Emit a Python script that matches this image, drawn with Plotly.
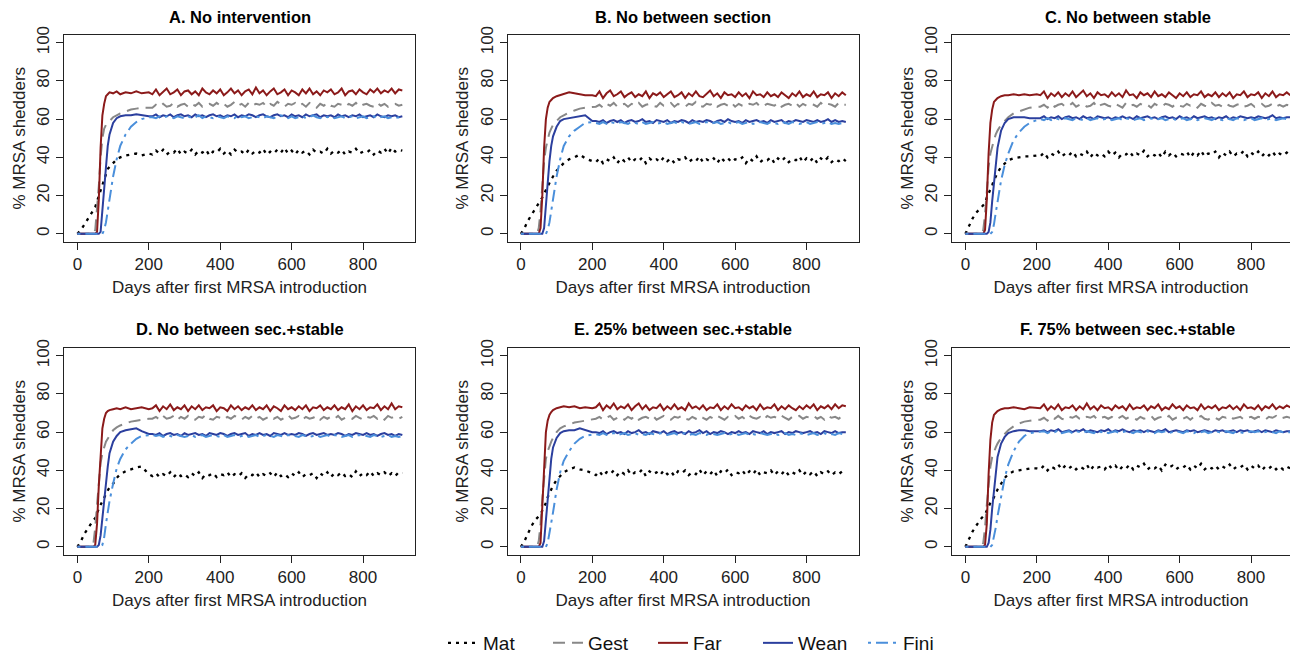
import plotly.graph_objects as go

W, H = 1290, 662

DAYS = [0, 10, 20, 30, 40, 45, 50, 55, 60, 65, 70, 75, 80, 85, 90, 100, 110, 120, 135, 150, 165, 180, 200,
        210, 220, 230, 240, 250, 260, 270, 280, 290, 300,
        310, 320, 330, 340, 350, 360, 370, 380, 390, 400,
        410, 420, 430, 440, 450, 460, 470, 480, 490, 500,
        510, 520, 530, 540, 550, 560, 570, 580, 590, 600,
        610, 620, 630, 640, 650, 660, 670, 680, 690, 700,
        710, 720, 730, 740, 750, 760, 770, 780, 790, 800,
        810, 820, 830, 840, 850, 860, 870, 880, 890, 900,
        910]

SERIES_NAMES = ["Mat", "Gest", "Far", "Wean", "Fini"]
PANEL_TITLES = ["A. No intervention", "B. No between section", "C. No between stable",
                "D. No between sec.+stable", "E. 25% between sec.+stable", "F. 75% between sec.+stable"]
X_TICKS = [0, 200, 400, 600, 800]
Y_TICKS = [0, 20, 40, 60, 80, 100]

# ---------------- Panel A ----------------
A_MAT = [0, 2, 5, 8, 11, 12.5, 14, 17, 20, 23, 26, 29, 32, 34, 35, 37, 39, 40, 41, 41.5, 42, 41, 42,
         41.5, 43.5, 42, 44, 41.5, 43, 42.5, 44.5, 41.5, 43,
         42, 44, 41.5, 43.5, 42.5, 44, 41, 43, 42.5, 44.5,
         42, 43.5, 41.5, 44, 42.5, 43, 41.5, 44, 42, 43.5,
         42.5, 44.5, 41.5, 43, 42, 44, 42.5, 45, 42, 43.5,
         41.5, 44, 42.5, 43.5, 41.5, 44, 42.5, 43, 42, 44.5,
         42, 43.5, 42.5, 44, 41.5, 43, 42.5, 44.5, 42, 43,
         42.5, 44, 41.5, 43.5, 42.5, 44.5, 42, 45, 43, 44,
         43.5]
A_GEST = [0, 0, 0, 0, 0, 0, 2, 12, 25, 40, 50, 55, 57, 58, 59, 61, 62, 63, 64, 65, 65.5, 66, 66,
          66, 67.5, 66.5, 68, 66.5, 67, 68.5, 66.5, 67.5, 68,
          66.5, 68, 67, 68.5, 66.5, 67.5, 68, 67, 68.5, 67,
          68, 66.5, 67.5, 69, 67, 68, 66.5, 68.5, 67, 68,
          67.5, 68.5, 66.5, 68, 67, 69, 67.5, 66.5, 68, 67.5,
          68.5, 67, 68, 66.5, 68.5, 67.5, 66, 68, 67, 68.5,
          67, 66.5, 68, 67.5, 66.5, 68, 67, 68.5, 66.5, 67.5,
          68, 67, 66.5, 68.5, 67, 68, 66.5, 67.5, 68, 67,
          67.5]
A_FAR = [0, 0, 0, 0, 0, 0, 0, 1, 18, 45, 62, 68, 72, 73, 74, 73.5, 74.5, 73, 74, 73.5, 74.5, 73.5, 74,
         73, 75.5, 72.5, 74.5, 76, 73, 74, 75.5, 72.5, 74.5,
         75, 73, 74.5, 72.5, 76, 74, 73, 75, 73.5, 75.5,
         72.5, 74, 76, 73.5, 75, 72.5, 74.5, 75.5, 73, 76.5,
         73.5, 75, 72.5, 74.5, 76, 73, 74, 75.5, 72.5, 75,
         74, 72.5, 75.5, 73.5, 76, 73, 74.5, 72.5, 75, 74,
         75.5, 73, 74, 76, 72.5, 74.5, 75, 73, 75.5, 74,
         73, 75.5, 74, 76, 73.5, 75, 74, 76, 73.5, 75.5,
         75]
A_WEAN = [0, 0, 0, 0, 0, 0, 0, 0, 0, 1, 12, 27, 38, 46, 52, 58, 60.5, 61.5, 62, 62, 62.5, 62, 61.5,
          61.5, 62.5, 61, 62, 61.5, 62.5, 61, 62, 62.5, 61.5,
          62, 61, 62.5, 61.5, 62, 61, 62, 62.5, 61.5, 62,
          61, 62, 61.5, 62.5, 61, 62, 61.5, 62.5, 62, 61,
          62, 62.5, 61.5, 61, 62, 62.5, 61.5, 62, 61, 62.5,
          61.5, 62, 61, 62.5, 61.5, 62, 62.5, 61, 62, 61.5,
          62, 61, 62.5, 61.5, 62, 61, 62, 61.5, 62.5, 61,
          61.5, 62, 61, 62.5, 61.5, 61, 62, 61.5, 62, 61,
          61.5]
A_FINI = [0, 0, 0, 0, 0, 0, 0, 0, 0, 0, 0, 2, 6, 12, 18, 30, 39, 46, 52, 56, 58.5, 60, 61,
          61, 60.5, 61.5, 60.5, 61.5, 61, 60.5, 61.5, 61, 60.5,
          61.5, 60.5, 61, 62, 60.5, 61.5, 61, 60.5, 61.5, 61,
          60.5, 61.5, 61, 60.5, 62, 61, 61.5, 60.5, 61, 61.5,
          61, 60.5, 61.5, 61, 60.5, 61.5, 62, 61, 60.5, 61.5,
          60.5, 61, 61.5, 60.5, 61, 62, 61, 60.5, 61.5, 61,
          61.5, 60.5, 61, 61.5, 60.5, 61, 61.5, 60.5, 61, 61.5,
          60.5, 61, 61.5, 60.5, 61, 61.5, 60.5, 61, 60.5, 61,
          61]

# ---------------- Panel B ----------------
B_MAT = [0, 3, 7, 10, 13, 14.5, 16, 17, 19, 21, 23, 25, 27, 28.5, 30, 33, 35, 37, 39, 40, 41.5, 39.5, 38,
         37.5, 39.5, 37, 39, 38, 40, 37, 39.5, 38, 40,
         37.5, 39, 38, 40, 37, 39.5, 38, 39, 37.5, 40,
         38, 39.5, 37, 39, 38.5, 40, 37.5, 39, 38, 40.5,
         37.5, 39, 38, 39.5, 37, 40, 38, 39.5, 37.5, 39,
         38.5, 40, 37, 39.5, 38, 40.5, 37.5, 39, 38.5, 40,
         37, 39.5, 38, 40, 37.5, 39, 38.5, 40.5, 37.5, 39.5,
         38, 40, 37, 39.5, 38, 40, 37.5, 39, 38, 39.5,
         38]
B_GEST = [0, 0, 0, 0, 0, 0, 3, 12, 25, 38, 45, 50, 53, 55, 57, 59, 61, 62, 63.5, 64.5, 65.5, 66, 66.5,
          66.5, 67.5, 66, 68, 67, 68.5, 66.5, 67.5, 68, 66.5,
          68, 67, 68.5, 66.5, 67.5, 68, 67, 66.5, 68.5, 67,
          67.5, 68.5, 66.5, 68, 67, 66.5, 68, 67.5, 69, 67,
          66.5, 68, 67.5, 68.5, 66.5, 67.5, 68, 67, 68.5, 66.5,
          68, 67, 66.5, 68, 67.5, 68.5, 66.5, 67, 68, 67.5,
          67, 68.5, 66.5, 67.5, 68, 67, 68.5, 66.5, 68, 67,
          68, 67.5, 66.5, 68.5, 67, 68, 67.5, 66.5, 68.5, 67.5,
          67.5]
B_FAR = [0, 0, 0, 0, 0, 0, 0, 3, 20, 45, 60, 66, 69, 70, 71, 72, 72.5, 73, 74, 73.5, 73, 72.5, 72.5,
         72, 74.5, 71, 73.5, 75, 72, 73, 74.5, 71.5, 73,
         74, 71.5, 73, 72, 74.5, 71, 73.5, 72.5, 74, 71.5,
         73, 74.5, 71.5, 72.5, 74, 71, 73.5, 72, 74.5, 72,
         71.5, 73, 75, 72, 73.5, 71, 74, 72.5, 73, 71.5,
         74, 72, 73.5, 71, 74.5, 72.5, 73, 71.5, 74, 72,
         73, 71.5, 74, 72.5, 71, 73.5, 72, 74.5, 71.5, 73,
         72, 74.5, 71.5, 73, 72.5, 74, 71, 73.5, 72, 74,
         72.5]
B_WEAN = [0, 0, 0, 0, 0, 0, 0, 0, 0, 3, 15, 28, 38, 46, 51, 56, 59, 60, 60.5, 61, 61.5, 62, 59,
          59, 58.5, 59.5, 58, 59, 59.5, 58.5, 59.5, 58, 59,
          59.5, 58.5, 59, 60, 58.5, 59, 58, 59.5, 59, 58.5,
          59.5, 58, 59, 58.5, 59.5, 59, 58, 59.5, 58.5, 59,
          58.5, 59.5, 59, 58, 59, 59.5, 58.5, 60, 59, 58.5,
          59, 58, 59.5, 58.5, 59, 59.5, 58.5, 59, 58, 59.5,
          58.5, 59, 59.5, 58, 59, 58.5, 59.5, 59, 58.5, 59.5,
          59, 58.5, 59.5, 58.5, 59, 60, 58.5, 59.5, 58.5, 59,
          58.5]
B_FINI = [0, 0, 0, 0, 0, 0, 0, 0, 0, 0, 0, 2, 6, 12, 18, 30, 39, 46, 51, 54, 56, 58, 58.5,
          58, 57.5, 58.5, 57.5, 58.5, 58, 57.5, 58.5, 58, 57.5,
          58.5, 58, 57.5, 58.5, 57.5, 58, 58.5, 57.5, 58, 58.5,
          57.5, 58, 58.5, 57.5, 58.5, 58, 57.5, 58, 58.5, 57.5,
          58, 58.5, 57.5, 58, 58.5, 57.5, 58, 58.5, 57.5, 58,
          58.5, 57.5, 58, 58.5, 57.5, 58, 58.5, 58, 57.5, 58.5,
          58, 57.5, 58.5, 58, 57.5, 58.5, 58, 57.5, 58, 58.5,
          57.5, 58, 58.5, 57.5, 58, 58.5, 57.5, 58, 57.5, 58,
          57.5]

# ---------------- Panel C ----------------
C_MAT = [0, 4, 8, 11, 13, 14, 15, 16, 19, 21, 23, 25.5, 28, 30, 32, 35, 37, 38.5, 39.5, 40, 40.5, 40.5, 41,
         40.5, 42.5, 40, 42, 41, 43, 40.5, 42, 41, 43,
         40.5, 42, 41, 43, 40, 42.5, 41, 42, 40.5, 43,
         41, 42.5, 40, 42, 41.5, 43, 40.5, 42, 41, 43.5,
         40.5, 42, 41, 42.5, 40, 43, 41, 42.5, 40.5, 42,
         41.5, 43, 40, 42.5, 41, 43.5, 40.5, 42, 41.5, 43,
         40, 42.5, 41, 43, 40.5, 42, 41.5, 43.5, 40.5, 42.5,
         41, 43, 40.5, 42.5, 41, 43, 40.5, 42, 41, 42.5,
         41]
C_GEST = [0, 0, 0, 0, 0, 0, 2, 10, 22, 35, 42, 46, 49, 52, 54, 57, 59, 61, 63, 64, 65, 66, 66.5,
          66.5, 67.5, 66, 68, 66.5, 67.5, 68, 66.5, 67, 68.5,
          66.5, 67.5, 68, 66.5, 67, 68.5, 66, 67.5, 68, 67,
          66.5, 68, 67, 66, 68.5, 67, 67.5, 66.5, 68, 67,
          67.5, 66, 68, 67, 66.5, 68, 67.5, 66.5, 68, 67,
          66.5, 68, 67, 67.5, 66, 68, 67, 66.5, 68.5, 67,
          67.5, 66.5, 68, 67, 66.5, 67.5, 68, 66.5, 67, 68,
          66.5, 67.5, 68, 66.5, 67, 68, 66.5, 67.5, 66.5, 67.5,
          67]
C_FAR = [0, 0, 0, 0, 0, 0, 0, 2, 18, 42, 58, 65, 69, 70, 71, 72, 72.5, 72.5, 73, 72.5, 73, 72.5, 73,
         72.5, 74.5, 71, 73.5, 72, 74, 71.5, 73.5, 72, 74.5,
         71.5, 73, 75, 72, 73.5, 71, 74, 72.5, 73, 71.5,
         74, 72, 73.5, 71.5, 75, 72.5, 73, 71, 74, 72.5,
         73.5, 71.5, 74.5, 72, 73, 71.5, 74, 72.5, 71, 73.5,
         72, 74, 71.5, 73, 72.5, 74.5, 71.5, 73, 72, 74,
         71.5, 73.5, 72, 74, 71, 73, 72.5, 74.5, 71.5, 73,
         72.5, 74, 71, 73.5, 72, 74.5, 71.5, 73, 72.5, 74,
         72.5]
C_WEAN = [0, 0, 0, 0, 0, 0, 0, 0, 0, 1, 6, 17, 27, 37, 45, 54, 58, 60, 61, 61, 61, 60.5, 60.5,
          60.5, 61.5, 60, 61, 60.5, 61.5, 60, 61, 61.5, 60.5,
          61, 60, 61.5, 60.5, 61, 60, 61.5, 61, 60.5, 61,
          60, 61, 60.5, 61.5, 60.5, 61, 60, 61.5, 60.5, 61,
          61.5, 60.5, 61, 60, 61, 61.5, 60.5, 61, 60, 61.5,
          60.5, 61, 60, 61.5, 60.5, 61, 61.5, 60.5, 61, 60,
          61, 60.5, 61.5, 60, 61, 60.5, 61.5, 61, 60.5, 61,
          60.5, 61.5, 61, 60.5, 61, 62, 60.5, 61, 60.5, 61,
          61]
C_FINI = [0, 0, 0, 0, 0, 0, 0, 0, 0, 0, 0, 1, 5, 11, 17, 28, 36, 42, 49, 53, 56, 58, 59.5,
          60, 59.5, 60.5, 59.5, 60.5, 60, 59.5, 60.5, 60, 59.5,
          60.5, 60, 59.5, 60.5, 59.5, 60, 60.5, 59.5, 60, 60.5,
          59.5, 60, 60.5, 59.5, 60.5, 60, 59.5, 60, 60.5, 59.5,
          60, 60.5, 59.5, 60, 60.5, 59.5, 60, 60.5, 59.5, 60,
          60.5, 59.5, 60, 60.5, 59.5, 60, 60.5, 60, 59.5, 60.5,
          60, 59.5, 60.5, 60, 59.5, 60.5, 60, 59.5, 60, 60.5,
          59.5, 60, 60.5, 59.5, 60, 60.5, 59.5, 60, 60.5, 60,
          60]

# ---------------- Panel D ----------------
D_MAT = [0, 3, 7, 10, 13, 14, 15, 18, 20, 22, 24, 26, 28, 29.5, 31, 33, 36, 38, 39.5, 40.5, 41.5, 42, 38,
         37, 38.5, 36.5, 38, 37, 39, 36.5, 38.5, 37, 38,
         36.5, 38.5, 37, 39, 36, 38, 37.5, 38.5, 36.5, 38,
         37.5, 39, 36.5, 38, 37, 38.5, 36, 38, 37.5, 39,
         36.5, 38, 37, 38.5, 36.5, 39, 37, 38, 36.5, 38.5,
         37, 39, 36.5, 38, 37.5, 38.5, 36, 38.5, 37, 39,
         36.5, 38.5, 37.5, 39, 37, 38, 36.5, 39.5, 37, 38.5,
         37.5, 39.5, 37, 38.5, 37.5, 39, 37, 38.5, 37, 39,
         38.5]
D_GEST = [0, 0, 0, 0, 0, 2, 10, 22, 35, 44, 49, 52, 55, 56.5, 58, 61, 62.5, 63.5, 64.5, 65.5, 66, 66.5, 67,
          67, 68, 66.5, 68.5, 67, 67.5, 68.5, 66.5, 68, 67,
          68.5, 67, 66.5, 68, 67.5, 69, 67, 66.5, 68, 67.5,
          66.5, 68, 67, 68.5, 67.5, 66.5, 68, 67, 68.5, 67,
          68, 66.5, 67.5, 68.5, 67, 68, 66.5, 67.5, 69, 67,
          67.5, 68.5, 66.5, 68, 67, 67.5, 68.5, 66.5, 68, 67,
          68, 67, 68.5, 66.5, 67.5, 68, 67, 68.5, 67.5, 66.5,
          68, 67.5, 68.5, 67, 68, 66.5, 68.5, 67.5, 68, 67,
          68]
D_FAR = [0, 0, 0, 0, 0, 0, 1, 12, 32, 50, 62, 67, 70, 71, 71.5, 72, 72.5, 72, 73, 72, 72.5, 73, 72,
         72.5, 74, 71, 73.5, 72, 74.5, 71.5, 73, 72, 74,
         71, 73.5, 72, 74, 71.5, 73, 72.5, 74, 71, 73,
         72.5, 71, 74, 72, 73.5, 71.5, 73, 72, 74, 71.5,
         73, 72, 74, 71, 73.5, 72.5, 71, 74, 72, 73,
         71.5, 73.5, 72, 74, 71, 73, 72.5, 74, 71.5, 73,
         72, 74, 71.5, 73, 72, 74.5, 71, 73.5, 72, 74,
         71.5, 73, 72.5, 74.5, 71.5, 73.5, 72, 75, 72, 73.5,
         73]
D_WEAN = [0, 0, 0, 0, 0, 0, 0, 0, 1, 6, 15, 25, 34, 42, 49, 55, 58, 60, 61, 61.5, 62, 60.5, 59,
          59, 58.5, 59.5, 58, 59, 59.5, 58.5, 59, 58, 59.5,
          58.5, 59, 59.5, 58.5, 59, 58, 59.5, 59, 58.5, 59.5,
          59, 58, 59, 59.5, 58.5, 59, 59.5, 58, 59, 58.5,
          59.5, 58.5, 59, 58, 59.5, 59, 58.5, 59.5, 58.5, 59,
          58.5, 59.5, 59, 58, 59, 59.5, 58.5, 59, 59.5, 58.5,
          59, 58.5, 59.5, 59, 58, 59, 58.5, 59.5, 59, 58.5,
          59.5, 58.5, 59, 58, 59, 59.5, 58.5, 59, 58, 59,
          58.5]
D_FINI = [0, 0, 0, 0, 0, 0, 0, 0, 0, 0, 1, 5, 12, 18, 24, 33, 41, 46, 51, 54, 56.5, 58, 58.5,
          58.5, 58, 58.5, 57.5, 58.5, 58, 57.5, 58.5, 58, 57.5,
          58, 58.5, 57.5, 58, 58.5, 57.5, 58, 58.5, 58, 57.5,
          58.5, 57.5, 58, 58.5, 57.5, 58, 58.5, 57.5, 58, 58.5,
          57.5, 58, 58.5, 58, 57.5, 58.5, 58, 57.5, 58.5, 58,
          58, 57.5, 58.5, 58, 57.5, 58, 58.5, 57.5, 58, 58.5,
          57.5, 58.5, 58, 57.5, 58, 58.5, 57.5, 58, 58.5, 58,
          58, 57.5, 58.5, 58, 57.5, 58, 58.5, 57.5, 58, 57.5,
          58]

# ---------------- Panel E ----------------
E_MAT = [0, 3, 7, 11, 14, 15, 16, 17, 19, 21, 23, 26, 28, 30, 32, 35, 37, 39, 40.5, 41.5, 40.5, 40, 38.5,
         37.5, 39.5, 37, 39, 38, 40, 37.5, 39.5, 38, 40,
         37.5, 39, 38.5, 40.5, 37, 39.5, 38, 39, 37.5, 40,
         38, 39.5, 37, 39.5, 38.5, 40, 37.5, 39, 38, 40.5,
         37.5, 39.5, 38, 40, 37, 39.5, 38.5, 40.5, 37.5, 39,
         38.5, 40, 37.5, 39.5, 38, 40.5, 37.5, 39, 38.5, 40,
         37.5, 39.5, 38, 40, 37.5, 39, 38, 40, 37.5, 39.5,
         38, 39.5, 37, 39, 38, 39.5, 37.5, 39, 38, 39.5,
         39]
E_GEST = [0, 0, 0, 0, 0, 0, 3, 12, 25, 38, 46, 50, 53, 55, 57, 60, 62, 63, 64, 65, 65.5, 66, 66.5,
          67, 68, 66.5, 67.5, 68.5, 66.5, 67.5, 68, 66.5, 68,
          67, 68.5, 66.5, 67.5, 68, 67, 68.5, 66.5, 67.5, 68.5,
          67, 66.5, 68, 67.5, 68.5, 67, 66.5, 68, 67, 68.5,
          67.5, 66.5, 68, 67, 68.5, 67.5, 66.5, 68, 67.5, 68.5,
          67, 68, 66.5, 68.5, 67.5, 67, 68, 66.5, 68.5, 67.5,
          68, 67, 68.5, 67.5, 66.5, 68, 67.5, 68.5, 67, 68,
          67.5, 68.5, 67, 68, 66.5, 68.5, 67.5, 68, 67, 68.5,
          68]
E_FAR = [0, 0, 0, 0, 0, 0, 0, 2, 20, 45, 60, 66, 69, 70.5, 71.5, 72.5, 73, 73.5, 73, 73.5, 72.5, 73, 72.5,
         73, 75, 71.5, 74, 72.5, 75, 72, 73.5, 72.5, 74.5,
         71.5, 73.5, 75, 72, 74, 71.5, 73, 72.5, 74.5, 71.5,
         73.5, 72, 74.5, 72, 73, 71.5, 75, 72.5, 73.5, 72,
         74, 71.5, 73, 72.5, 74.5, 71.5, 73.5, 72, 74.5, 72.5,
         73, 71.5, 74, 72.5, 73.5, 71.5, 74.5, 72, 73, 72.5,
         74.5, 71.5, 73.5, 72, 74, 72.5, 71.5, 73.5, 72, 74,
         72.5, 74.5, 71.5, 73.5, 72.5, 74, 72, 74.5, 72.5, 74,
         73.5]
E_WEAN = [0, 0, 0, 0, 0, 0, 0, 0, 0, 3, 14, 27, 38, 46, 52, 57, 59.5, 60.5, 61, 61, 62, 61, 60,
          60, 59.5, 60.5, 59, 60, 60.5, 59.5, 60, 59, 60.5,
          59.5, 60, 61, 59.5, 60, 59, 60.5, 60, 59.5, 60.5,
          59, 60, 60.5, 59.5, 60, 59, 60.5, 59.5, 60, 61,
          59.5, 60.5, 59, 60, 59.5, 60.5, 60, 59, 60, 59.5,
          60.5, 59.5, 60, 59, 60.5, 60, 59.5, 60.5, 59, 60,
          59.5, 60, 60.5, 59, 60, 59.5, 60.5, 60, 59.5, 60,
          60.5, 59.5, 60, 59, 60.5, 60, 59.5, 60.5, 59.5, 60,
          60]
E_FINI = [0, 0, 0, 0, 0, 0, 0, 0, 0, 0, 0, 2, 7, 12, 18, 30, 39, 45, 50, 54, 56.5, 58, 58.5,
          59, 58.5, 59.5, 58.5, 59, 59.5, 58.5, 59, 59.5, 58.5,
          59, 59.5, 58.5, 59, 58.5, 59.5, 59, 58.5, 59.5, 59,
          58.5, 59, 59.5, 58.5, 59, 59.5, 58.5, 59, 58.5, 59.5,
          59, 58.5, 59.5, 59, 58.5, 59, 59.5, 58.5, 59, 59.5,
          58.5, 59, 59.5, 58.5, 59, 58.5, 59.5, 59, 58.5, 59,
          59.5, 58.5, 59, 59.5, 58.5, 59, 58.5, 59.5, 59, 58.5,
          59, 59.5, 58.5, 59, 59.5, 58.5, 59, 58.5, 59.5, 59,
          58.5]

# ---------------- Panel F ----------------
F_MAT = [0, 4, 8, 11, 14, 15, 16, 17, 19, 21, 23, 24, 26, 28, 30, 33, 36, 38, 39.5, 40, 40.5, 41, 41,
         40.5, 42.5, 40, 42, 41, 43, 40.5, 42.5, 41, 42.5,
         40.5, 42, 41, 43, 40, 42.5, 41.5, 42, 40.5, 43,
         41, 42.5, 40, 42, 41, 43, 40.5, 42.5, 41.5, 43.5,
         40.5, 42, 41, 42.5, 40, 43, 41.5, 42.5, 40.5, 42,
         41.5, 43, 40.5, 42.5, 41, 43.5, 40.5, 42, 41, 42.5,
         40.5, 42, 41, 43, 40.5, 42, 41.5, 43, 40.5, 42.5,
         41, 42.5, 40, 42, 41, 42.5, 40.5, 42, 40.5, 42,
         41]
F_GEST = [0, 0, 0, 0, 0, 0, 2, 10, 22, 34, 42, 47, 50, 52, 54, 57, 59, 61, 63, 64.5, 65.5, 66, 66.5,
          66.5, 67.5, 66, 68, 67, 68.5, 67, 66.5, 68, 67.5,
          68.5, 67, 66.5, 68, 67.5, 68.5, 66.5, 67.5, 68, 67,
          68, 66.5, 67.5, 68.5, 67, 68, 67.5, 66.5, 68, 67,
          67.5, 68.5, 66.5, 67.5, 68, 67, 68.5, 66.5, 67.5, 68,
          67, 68, 66.5, 68, 67.5, 68.5, 67, 66.5, 68, 67.5,
          66.5, 68, 67.5, 68.5, 67, 67.5, 68, 66.5, 67.5, 68,
          67, 68, 67.5, 66.5, 68, 67.5, 68.5, 67, 67.5, 68,
          67.5]
F_FAR = [0, 0, 0, 0, 0, 0, 0, 1, 12, 38, 56, 65, 69, 70, 71, 72, 72.5, 72.5, 73, 72.5, 72, 73, 72.5,
         72.5, 74.5, 71.5, 73.5, 72, 74.5, 71.5, 73, 72.5, 74,
         71.5, 73.5, 72, 75, 72, 73.5, 71.5, 74, 72.5, 73,
         71.5, 74, 72.5, 73.5, 71.5, 74.5, 72, 73, 72.5, 74,
         71.5, 73.5, 72.5, 74.5, 71.5, 73, 72, 74.5, 72.5, 73.5,
         71.5, 74, 72.5, 73, 71.5, 74.5, 72, 73.5, 72.5, 74,
         71.5, 73, 72.5, 74, 72, 73.5, 71.5, 74.5, 72.5, 73,
         72, 74, 71.5, 73.5, 72.5, 74.5, 72, 73.5, 72.5, 74,
         73]
F_WEAN = [0, 0, 0, 0, 0, 0, 0, 0, 0, 2, 9, 20, 30, 40, 47, 54, 57.5, 59.5, 60.5, 61, 61, 60.5, 60.5,
          60.5, 61, 60, 61, 60.5, 61.5, 60, 60.5, 61, 60,
          61, 60.5, 61.5, 60, 61, 60.5, 60, 61, 60.5, 61.5,
          60, 61, 60.5, 61.5, 60.5, 60, 61, 60.5, 61, 60,
          61, 60.5, 60, 61, 60.5, 61.5, 60, 60.5, 61, 60.5,
          60, 61, 60.5, 61, 60, 60.5, 61, 60.5, 60, 61,
          60.5, 61, 60, 60.5, 61, 60, 61, 60.5, 61, 60,
          60.5, 61, 60, 61, 60.5, 60, 61, 60.5, 60, 60.5,
          60.5]
F_FINI = [0, 0, 0, 0, 0, 0, 0, 0, 0, 0, 0, 1, 5, 10, 16, 27, 36, 43, 50, 55, 58, 59.5, 60,
          60, 60.5, 59.5, 60.5, 60, 61, 59.5, 60, 60.5, 59.5,
          60.5, 60, 59.5, 60.5, 60, 59.5, 61, 60, 60.5, 59.5,
          60, 60.5, 59.5, 60, 60.5, 60, 59.5, 60.5, 60, 59.5,
          60.5, 60, 59.5, 60.5, 60, 60.5, 59.5, 60, 60.5, 60,
          59.5, 60.5, 60, 59.5, 60.5, 60, 60.5, 59.5, 60, 60.5,
          60, 59.5, 60.5, 60, 59.5, 60.5, 60, 59.5, 60, 60.5,
          60, 60.5, 59.5, 60, 60.5, 60, 59.5, 60.5, 60, 60,
          60]

PANEL_DATA = [
    [A_MAT, A_GEST, A_FAR, A_WEAN, A_FINI],
    [B_MAT, B_GEST, B_FAR, B_WEAN, B_FINI],
    [C_MAT, C_GEST, C_FAR, C_WEAN, C_FINI],
    [D_MAT, D_GEST, D_FAR, D_WEAN, D_FINI],
    [E_MAT, E_GEST, E_FAR, E_WEAN, E_FINI],
    [F_MAT, F_GEST, F_FAR, F_WEAN, F_FINI],
]

# ---------------- styling ----------------
STYLES = {
    "Mat":  dict(color="#000000", width=2.3, dash="3px,5px"),
    "Gest": dict(color="#888888", width=2.0, dash="12px,7px"),
    "Far":  dict(color="#8b1a1a", width=2.0, dash="solid"),
    "Wean": dict(color="#2b3f9e", width=2.0, dash="solid"),
    "Fini": dict(color="#4a8fdb", width=2.0, dash="3px,5px,12px,5px"),
}
FONT = "Liberation Sans, Arial, Helvetica, sans-serif"
AX_COLOR = "#222222"

COL_LEFT = [64, 507.5, 952]
ROW_TOP = [35, 348]
BOX_W, BOX_H = 351, 206.5
X_RANGE = [-37.5, 945.5]
Y_RANGE = [-4, 104]

fig = go.Figure()
layout = {}
for i, series in enumerate(PANEL_DATA):
    r, c = divmod(i, 3)
    x0 = COL_LEFT[c]
    x1 = min(x0 + BOX_W, W)
    clipped = (x0 + BOX_W) > W
    y0 = ROW_TOP[r]
    y1 = y0 + BOX_H
    xr1 = X_RANGE[0] + (x1 - x0) / BOX_W * (X_RANGE[1] - X_RANGE[0])
    sfx = "" if i == 0 else str(i + 1)
    layout["xaxis" + sfx] = dict(
        domain=[x0 / W, x1 / W], range=[X_RANGE[0], xr1], anchor="y" + sfx,
        tickmode="array", tickvals=X_TICKS, ticks="outside", ticklen=7, tickwidth=1,
        tickcolor=AX_COLOR, showline=True, linecolor=AX_COLOR, linewidth=1, mirror=True,
        showgrid=False, zeroline=False,
        tickfont=dict(family=FONT, size=17, color=AX_COLOR),
        title=dict(text="Days after first MRSA introduction", standoff=8,
                   font=dict(family=FONT, size=17, color=AX_COLOR)),
    )
    layout["yaxis" + sfx] = dict(
        domain=[1 - y1 / H, 1 - y0 / H], range=Y_RANGE, anchor="x" + sfx,
        tickmode="array", tickvals=Y_TICKS, ticks="outside", ticklen=7, tickwidth=1,
        tickangle=-90, tickcolor=AX_COLOR, showline=True, linecolor=AX_COLOR, linewidth=1,
        mirror=not clipped, showgrid=False, zeroline=False,
        tickfont=dict(family=FONT, size=17, color=AX_COLOR),
        title=dict(text="% MRSA shedders", standoff=4,
                   font=dict(family=FONT, size=17, color=AX_COLOR)),
    )
    for name, vals in zip(SERIES_NAMES, series):
        assert len(vals) == len(DAYS), (PANEL_TITLES[i], name, len(vals))
        st = STYLES[name]
        fig.add_trace(go.Scatter(
            x=DAYS, y=vals, mode="lines", name=name,
            line=dict(color=st["color"], width=st["width"], dash=st["dash"]),
            xaxis="x" + sfx, yaxis="y" + sfx, showlegend=(i == 0), hoverinfo="skip",
        ))

annotations = []
for i, title in enumerate(PANEL_TITLES):
    r, c = divmod(i, 3)
    cx = COL_LEFT[c] + BOX_W / 2
    cy = [16.7, 329.3][r]
    annotations.append(dict(
        text="<b>" + title + "</b>", x=cx / W, y=1 - cy / H, xref="paper", yref="paper",
        xanchor="center", yanchor="middle", showarrow=False,
        font=dict(family=FONT, size=16.5, color="#000000"),
    ))

fig.update_layout(
    **layout,
    annotations=annotations,
    width=W, height=H,
    margin=dict(l=0, r=0, t=0, b=0),
    paper_bgcolor="white", plot_bgcolor="white",
    template="none",
    showlegend=True,
    legend=dict(
        orientation="h", x=443 / W, y=0, xanchor="left", yanchor="bottom",
        font=dict(family=FONT, size=19, color="#111111"),
        entrywidth=60, entrywidthmode="pixels", itemwidth=30,
        bgcolor="rgba(0,0,0,0)", borderwidth=0, tracegroupgap=0,
    ),
)

fig.write_html("out.html")
